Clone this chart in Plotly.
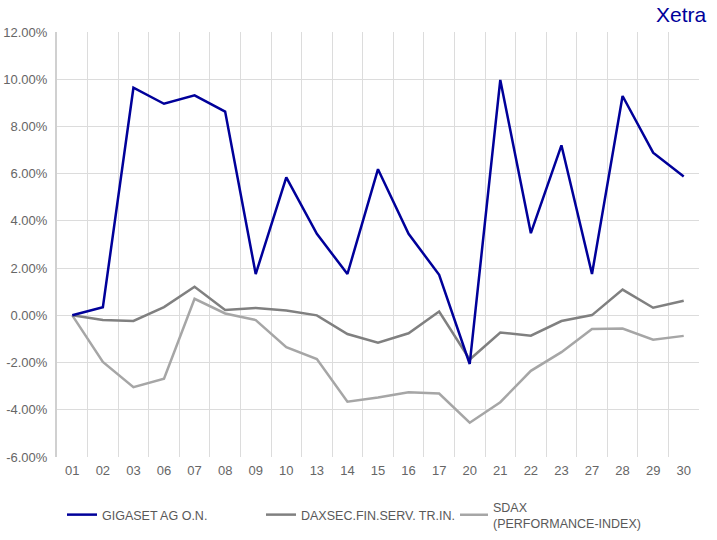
import plotly.graph_objects as go

categories = ["01", "02", "03", "06", "07", "08", "09", "10", "13", "14", "15",
              "16", "17", "20", "21", "22", "23", "27", "28", "29", "30"]

gigaset = [0.00, 0.34, 9.64, 8.96, 9.32, 8.63, 1.75, 5.84, 3.45, 1.75, 6.19,
           3.45, 1.72, -2.06, 9.97, 3.48, 7.20, 1.75, 9.29, 6.89, 5.88]
daxsec = [0.00, -0.20, -0.24, 0.35, 1.21, 0.23, 0.31, 0.20, 0.00, -0.79, -1.16,
          -0.76, 0.16, -1.87, -0.73, -0.86, -0.24, 0.01, 1.09, 0.32, 0.62]
sdax = [0.00, -1.97, -3.04, -2.68, 0.70, 0.08, -0.20, -1.35, -1.85, -3.66, -3.48,
        -3.26, -3.31, -4.55, -3.68, -2.35, -1.56, -0.58, -0.56, -1.03, -0.87]

names = ["GIGASET AG O.N.", "DAXSEC.FIN.SERV. TR.IN.", "SDAX<br>(PERFORMANCE-INDEX)"]
colors = ["#00009a", "#808080", "#a6a6a6"]
y_ticks = [-6, -4, -2, 0, 2, 4, 6, 8, 10, 12]

W, H = 717, 540
legend_x_px = [62, 261, 453]

fig = go.Figure()
# draw lighter series first so the main line is on top
for vals, name, col, lg in [(sdax, names[2], colors[2], "legend3"),
                            (daxsec, names[1], colors[1], "legend2"),
                            (gigaset, names[0], colors[0], "legend")]:
    fig.add_trace(go.Scatter(x=categories, y=vals, mode="lines", name=name,
                             legend=lg, line=dict(color=col, width=2.5)))

leg_common = dict(orientation="h", xref="container", yref="container",
                  xanchor="left", yanchor="middle", y=25 / H,
                  font=dict(size=12.5, color="#595959"))

fig.update_layout(
    width=W, height=H,
    margin=dict(l=57, r=18, t=32, b=83),
    plot_bgcolor="white", paper_bgcolor="white",
    font=dict(family="Liberation Sans, Arial, sans-serif", size=13, color="#666666"),
    showlegend=True,
    legend=dict(x=legend_x_px[0] / W, **leg_common),
    legend2=dict(x=legend_x_px[1] / W, **leg_common),
    legend3=dict(x=legend_x_px[2] / W, **leg_common),
    annotations=[dict(text="Xetra", xref="paper", yref="paper", x=1, y=1,
                      xanchor="right", yanchor="bottom", xshift=10, yshift=4,
                      showarrow=False, font=dict(size=21, color="#00009a"))],
)
fig.update_xaxes(type="category", tickson="boundaries", showgrid=True,
                 gridcolor="#dcdcdc", gridwidth=1, ticks="", showline=False,
                 range=[-0.5, len(categories) - 0.5], ticklabelstandoff=4,
                 automargin=False)
fig.update_yaxes(range=[-6, 12], tickvals=y_ticks,
                 ticktext=[f"{v:.2f}%" for v in y_ticks],
                 showgrid=True, gridcolor="#dcdcdc", gridwidth=1, zeroline=False,
                 showline=True, linecolor="#d0d0d0", linewidth=2, ticks="",
                 ticklabelstandoff=5, automargin=False)

fig.write_html("out.html", config={"displayModeBar": False},
               post_script="document.body.style.margin='0';")
